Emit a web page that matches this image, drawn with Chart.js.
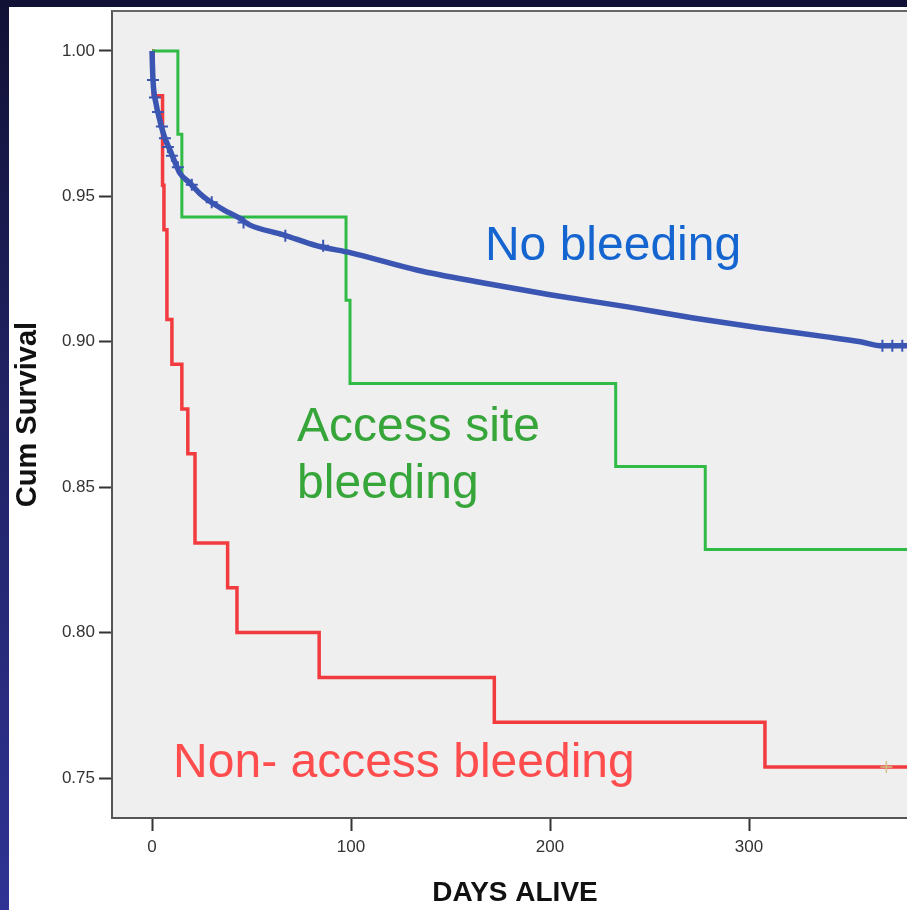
<!DOCTYPE html>
<html>
<head>
<meta charset="utf-8">
<script src="https://cdn.jsdelivr.net/npm/chart.js@4.4.1/dist/chart.umd.min.js"></script>
<style>
  html, body { margin: 0; padding: 0; width: 907px; height: 910px; overflow: hidden; }
  body { background: linear-gradient(to bottom, #111135 0%, #1f2160 40%, #2f3394 100%); position: relative; }
  #panel { position: absolute; left: 9px; top: 7px; width: 909px; height: 903px; background: #ffffff; }
  #c { display: block; }
</style>
</head>
<body>
<div id="panel"><canvas id="c" width="909" height="903"></canvas></div>
<script>
// ---- data ----
const xTicks = [0, 100, 200, 300];
const yTicks = [0.75, 0.80, 0.85, 0.90, 0.95, 1.00];

const noBleedDays   = [0, 0.5, 2, 4, 6, 9, 12, 14, 19, 24, 28, 36, 44, 49, 66, 83, 100, 133, 166, 200, 239, 272, 305, 339, 356, 367, 385];
const noBleedSurv   = [1.000, 0.990, 0.982, 0.976, 0.971, 0.966, 0.961, 0.958, 0.9546, 0.951, 0.9488, 0.9454, 0.9425, 0.9402, 0.9368, 0.9330, 0.9306, 0.9247, 0.9203, 0.9162, 0.9120, 0.9082, 0.9048, 0.9017, 0.9000, 0.8986, 0.8986];
const noBleedCensDays = [0.5, 1.5, 3, 5, 6.5, 8, 10, 13, 20, 30, 46, 67, 86, 367, 372, 377];
const noBleedCensSurv = [0.990, 0.984, 0.979, 0.974, 0.970, 0.967, 0.964, 0.960, 0.954, 0.948, 0.941, 0.9365, 0.933, 0.8986, 0.8986, 0.8986];

const accessDays = [0, 13, 15, 97.5, 99.5, 233, 278, 385];
const accessSurv = [1.0, 0.9714, 0.9429, 0.9143, 0.8857, 0.8571, 0.8286, 0.8286];

const nonAccessDays = [0, 0.6, 5.3, 6, 7.5, 10, 15, 18, 21.6, 38, 42.7, 84, 172, 308, 385];
const nonAccessSurv = [1.0, 0.9846, 0.9538, 0.9385, 0.9077, 0.8923, 0.8769, 0.8615, 0.8308, 0.8154, 0.8000, 0.7846, 0.7692, 0.7538, 0.7538];
const nonAccessCensDays = [369];
const nonAccessCensSurv = [0.7538];

const labelTexts = ['No bleeding', 'Access site', 'bleeding', 'Non- access bleeding'];
const labelDays  = [167.3, 72.9, 72.9, 10.6];
const labelSurv  = [0.9282, 0.8660, 0.8464, 0.7502];
const labelColors = ['#1565d0', '#36a53a', '#36a53a', '#ff4d4d'];

const pts = (xs, ys) => xs.map((x, i) => ({ x: x, y: ys[i] }));

const plotBg = {
  id: 'plotBg',
  beforeDraw(chart) {
    const { ctx, chartArea: a } = chart;
    ctx.save();
    ctx.fillStyle = '#efefef';
    ctx.fillRect(a.left, a.top, a.right - a.left, a.bottom - a.top);
    ctx.restore();
  },
  afterDraw(chart) {
    const { ctx, chartArea: a } = chart;
    ctx.save();
    ctx.strokeStyle = '#666';
    ctx.lineWidth = 2;
    ctx.beginPath();
    ctx.moveTo(a.left, a.top);
    ctx.lineTo(a.right + 5, a.top);
    ctx.stroke();
    ctx.restore();
  }
};

const textLabels = {
  id: 'textLabels',
  afterDatasetsDraw(chart) {
    const { ctx, scales } = chart;
    ctx.save();
    ctx.font = '48px "Liberation Sans", Arial, sans-serif';
    ctx.textAlign = 'left';
    ctx.textBaseline = 'alphabetic';
    labelTexts.forEach((t, i) => {
      ctx.fillStyle = labelColors[i];
      ctx.fillText(t, scales.x.getPixelForValue(labelDays[i]), scales.y.getPixelForValue(labelSurv[i]));
    });
    ctx.restore();
  }
};

const noPad = s => { s.paddingTop = 0; s.paddingBottom = 0; s.paddingLeft = 0; s.paddingRight = 0; };

new Chart(document.getElementById('c'), {
  type: 'line',
  data: {
    datasets: [
      { label: 'No bleeding', data: pts(noBleedDays, noBleedSurv), borderColor: '#3b55b2', borderWidth: 5.5, pointRadius: 0, cubicInterpolationMode: 'monotone', fill: false, order: 1 },
      { label: 'No bleeding censored', data: pts(noBleedCensDays, noBleedCensSurv), showLine: false, pointStyle: 'cross', pointRadius: 6, pointBorderWidth: 2, borderColor: '#3b55b2', backgroundColor: '#3b55b2', order: 1 },
      { label: 'Access site bleeding', data: pts(accessDays, accessSurv), stepped: 'before', borderColor: '#2fbb45', borderWidth: 3, pointRadius: 0, fill: false, order: 2 },
      { label: 'Non-access bleeding', data: pts(nonAccessDays, nonAccessSurv), stepped: 'before', borderColor: '#f23b3f', borderWidth: 3.5, pointRadius: 0, fill: false, order: 3 },
      { label: 'Non-access censored', data: pts(nonAccessCensDays, nonAccessCensSurv), showLine: false, pointStyle: 'cross', pointRadius: 6, pointBorderWidth: 1.5, borderColor: '#cfc384', backgroundColor: '#cfc384', order: 0 }
    ]
  },
  options: {
    responsive: false,
    animation: false,
    layout: { autoPadding: false, padding: { top: 4, right: 0, left: 0, bottom: 0 } },
    plugins: { legend: { display: false }, tooltip: { enabled: false } },
    scales: {
      x: {
        type: 'linear',
        min: -20.1,
        max: 384.9,
        afterBuildTicks: s => { s.ticks = xTicks.map(v => ({ value: v })); },
        afterFit: s => { s.height = 92; noPad(s); },
        grid: { drawOnChartArea: false, drawTicks: true, tickLength: 13, tickColor: '#333', tickWidth: 2 },
        border: { display: true, color: '#555', width: 2 },
        ticks: { color: '#333', font: { family: '"Liberation Sans", Arial, sans-serif', size: 17 }, padding: 6, maxRotation: 0 },
        title: { display: true, text: 'DAYS ALIVE', color: '#111', font: { family: '"Liberation Sans", Arial, sans-serif', size: 28, weight: 'bold' }, padding: { top: 0, bottom: 0 } }
      },
      y: {
        type: 'linear',
        min: 0.73625,
        max: 1.01375,
        afterBuildTicks: s => { s.ticks = yTicks.map(v => ({ value: v })); },
        afterFit: s => { s.width = 103; noPad(s); },
        grid: { drawOnChartArea: false, drawTicks: true, tickLength: 13, tickColor: '#333', tickWidth: 2 },
        border: { display: true, color: '#555', width: 2 },
        ticks: { color: '#333', font: { family: '"Liberation Sans", Arial, sans-serif', size: 17 }, padding: 4, callback: v => v.toFixed(2) },
        title: { display: true, text: 'Cum Survival', color: '#111', font: { family: '"Liberation Sans", Arial, sans-serif', size: 29, weight: 'bold' }, padding: { top: 2, bottom: 0 } }
      }
    }
  },
  plugins: [plotBg, textLabels]
});
</script>
</body>
</html>
